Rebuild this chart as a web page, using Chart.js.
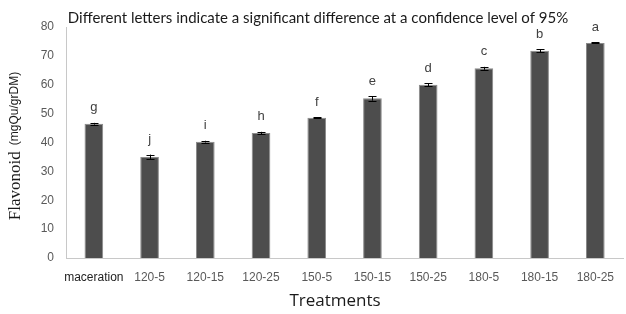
<!DOCTYPE html>
<html>
<head>
<meta charset="utf-8">
<script src="https://cdn.jsdelivr.net/npm/chart.js@4/dist/chart.umd.min.js"></script>
<style>
  html, body { margin: 0; padding: 0; background: #fff; }
  #wrap { width: 626px; height: 314px; }
</style>
</head>
<body>
<div id="wrap"><canvas id="graph1"></canvas></div>
<script>
// data
const treatments = ["maceration", "120-5", "120-15", "120-25", "150-5", "150-15", "150-25", "180-5", "180-15", "180-25"];
const flavonoid = [46.5, 35.0, 40.3, 43.3, 48.6, 55.3, 60.0, 65.7, 71.8, 74.5];
const errors = [0.3, 0.8, 0.3, 0.4, 0.2, 0.8, 0.5, 0.5, 0.5, 0.2];
const letters = ["g", "j", "i", "h", "f", "e", "d", "c", "b", "a"];
const yMin = 0, yMax = 80, yStep = 10;

const titleText = "Different letters indicate a significant difference at a confidence level of 95%";

// error bars, letters and the free text
const extras = {
  id: "extras",
  afterDatasetsDraw(chart) {
    const ctx = chart.ctx;
    const meta = chart.getDatasetMeta(0);
    const y = chart.scales.y;
    ctx.save();
    ctx.strokeStyle = "#000";
    ctx.lineWidth = 1;
    meta.data.forEach(function(bar, i) {
      const top = y.getPixelForValue(flavonoid[i] + errors[i]);
      const bot = y.getPixelForValue(flavonoid[i] - errors[i]);
      const x = Math.round(bar.x) + 0.5;
      ctx.beginPath();
      ctx.moveTo(x, top); ctx.lineTo(x, bot);
      ctx.moveTo(x - 4, Math.round(top) + 0.5); ctx.lineTo(x + 4, Math.round(top) + 0.5);
      ctx.moveTo(x - 4, Math.round(bot) + 0.5); ctx.lineTo(x + 4, Math.round(bot) + 0.5);
      ctx.stroke();

      ctx.fillStyle = "#404040";
      ctx.font = "13px 'Liberation Sans'";
      ctx.textAlign = "center";
      ctx.textBaseline = "middle";
      ctx.fillText(letters[i], bar.x, top - 15);
    });
    ctx.restore();
  },
  afterDraw(chart) {
    const ctx = chart.ctx;
    ctx.save();
    // title
    ctx.fillStyle = "#1a1a1a";
    ctx.font = "15px Lato";
    ctx.textAlign = "center";
    ctx.textBaseline = "middle";
    ctx.fillText(titleText, 318, 18);

    // x axis title
    ctx.font = "17px 'Open Sans'";
    ctx.fillText("Treatments", 335, 301);

    // y axis title, two fonts
    ctx.translate(16, 146);
    ctx.rotate(-Math.PI / 2);
    ctx.textAlign = "left";
    ctx.font = "17px 'Liberation Serif'";
    const w1 = ctx.measureText("Flavonoid").width;
    ctx.font = "12px 'Liberation Sans'";
    const w2 = ctx.measureText("(mgQu/grDM)").width;
    const gap = 6;
    const start = -(w1 + gap + w2) / 2;
    ctx.font = "17px 'Liberation Serif'";
    ctx.fillText("Flavonoid", start, 0);
    ctx.font = "12px 'Liberation Sans'";
    ctx.fillText("(mgQu/grDM)", start + w1 + gap, -1);
    ctx.restore();
  }
};

const ctx = document.getElementById("graph1");

new Chart(ctx, {
  type: "bar",
  data: {
    labels: treatments,
    datasets: [{
      label: "Flavonoid",
      data: flavonoid,
      backgroundColor: "#4d4d4d",
      borderColor: "#8a8a8a",
      borderWidth: 1,
      barPercentage: 0.67,
      categoryPercentage: 0.5
    }]
  },
  options: {
    responsive: true,
    maintainAspectRatio: false,
    animation: false,
    events: [],
    layout: {
      padding: { top: 27, right: -4, bottom: 0, left: 0 }
    },
    plugins: {
      legend: { display: false },
      title: { display: false },
      tooltip: { enabled: false }
    },
    scales: {
      x: {
        grid: { display: false, drawTicks: false },
        border: { color: "#c8c8c8" },
        ticks: {
          padding: 12,
          maxRotation: 0,
          autoSkip: false,
          font: { family: "'Liberation Sans'", size: 12 },
          color: function(c) { return c.index == 0 ? "#222" : "#595959"; }
        },
        afterFit: function(scale) { scale.height = 56; }
      },
      y: {
        min: yMin,
        max: yMax,
        grid: { display: false, drawTicks: false },
        border: { color: "#c8c8c8" },
        ticks: {
          stepSize: yStep,
          padding: 12,
          font: { family: "'Liberation Sans'", size: 12 },
          color: "#595959"
        },
        afterFit: function(scale) { scale.width = 66; }
      }
    }
  },
  plugins: [extras]
});
</script>
</body>
</html>
